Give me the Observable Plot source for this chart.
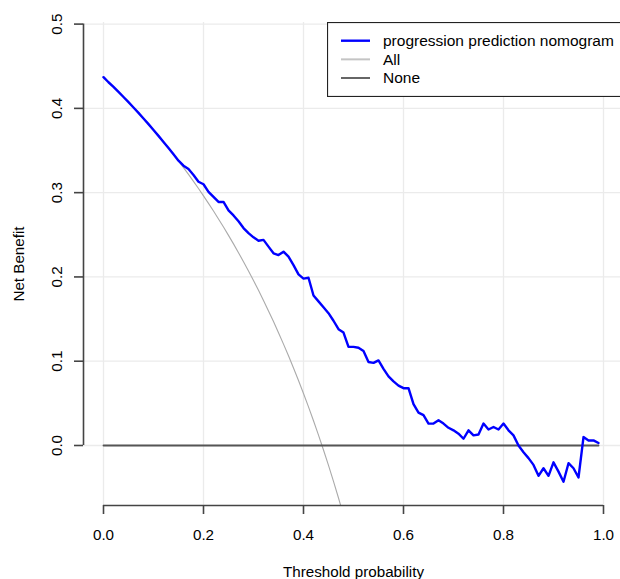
<!DOCTYPE html>
<html><head><meta charset="utf-8">
<script src="https://cdn.jsdelivr.net/npm/d3@7"></script>
<script src="https://cdn.jsdelivr.net/npm/@observablehq/plot@0.6"></script>
<style>
html,body{margin:0;padding:0;background:#fff;overflow:hidden}
#wrap{position:relative;width:620px;height:579px;font-family:"Liberation Sans",Arial,sans-serif}
#legend{position:absolute;left:327px;top:22px}
</style></head><body><div id="wrap"></div>
<script>
// Threshold probabilities (x) for the model curve
const thresholds = [0.00,0.01,0.02,0.03,0.04,0.05,0.06,0.07,0.08,0.09,0.10,0.11,0.12,0.13,0.14,0.15,0.16,0.17,0.18,0.19,
0.20,0.21,0.22,0.23,0.24,0.25,0.26,0.27,0.28,0.29,0.30,0.31,0.32,0.33,0.34,0.35,0.36,0.37,0.38,0.39,
0.40,0.41,0.42,0.43,0.44,0.45,0.46,0.47,0.48,0.49,0.50,0.51,0.52,0.53,0.54,0.55,0.56,0.57,0.58,0.59,
0.60,0.61,0.62,0.63,0.64,0.65,0.66,0.67,0.68,0.69,0.70,0.71,0.72,0.73,0.74,0.75,0.76,0.77,0.78,0.79,
0.80,0.81,0.82,0.83,0.84,0.85,0.86,0.87,0.88,0.89,0.90,0.91,0.92,0.93,0.94,0.95,0.96,0.97,0.98,0.99];
// Net benefit of the progression prediction nomogram
const modelNB = [0.437,0.431,0.4255,0.4196,0.4135,0.4074,0.4011,0.3946,0.388,0.3813,0.3744,0.3674,0.3602,0.3529,0.3455,0.3380,0.332,0.328,0.321,0.313,
0.310,0.301,0.295,0.289,0.289,0.279,0.273,0.266,0.258,0.252,0.247,0.243,0.244,0.236,0.228,0.226,0.230,0.224,0.214,0.203,
0.198,0.199,0.178,0.171,0.164,0.157,0.148,0.138,0.134,0.117,0.117,0.116,0.112,0.099,0.098,0.101,0.091,0.082,0.076,0.071,
0.068,0.068,0.049,0.039,0.036,0.026,0.026,0.030,0.026,0.021,0.018,0.014,0.008,0.018,0.012,0.013,0.026,0.019,0.022,0.019,
0.026,0.018,0.012,0.000,-0.008,-0.015,-0.023,-0.036,-0.027,-0.036,-0.020,-0.031,-0.043,-0.021,-0.027,-0.038,0.010,0.006,0.006,0.003];
// "All" (treat all) curve
const allThresholds = [0.00,0.01,0.02,0.03,0.04,0.05,0.06,0.07,0.08,0.09,0.10,0.11,0.12,0.13,0.14,0.15,0.16,0.17,0.18,0.19,
0.20,0.21,0.22,0.23,0.24,0.25,0.26,0.27,0.28,0.29,0.30,0.31,0.32,0.33,0.34,0.35,0.36,0.37,0.38,0.39,
0.40,0.41,0.42,0.43,0.44,0.45,0.46,0.47,0.48];
const allNB = [0.437,0.431,0.4255,0.4196,0.4135,0.4074,0.4011,0.3946,0.388,0.3813,0.3744,0.3674,0.3602,0.3529,0.3453,0.3376,0.3298,0.3217,0.3134,0.3049,
0.2962,0.2873,0.2782,0.2688,0.2592,0.2493,0.2392,0.2288,0.218,0.207,0.1957,0.1841,0.1721,0.1597,0.147,0.1338,0.1203,0.1064,0.0919,0.0771,
0.0617,0.0458,0.0293,0.0123,-0.0054,-0.0236,-0.0426,-0.0623,-0.0827];
// "None" (treat none) line
const noneThresholds = [0.00, 0.99];
const noneNB = [0, 0];

const xTicks = [0, 0.2, 0.4, 0.6, 0.8, 1.0];
const yTicks = [0, 0.1, 0.2, 0.3, 0.4, 0.5];
const seriesNames = ["progression prediction nomogram", "All", "None"];
const seriesColors = ["#0000ff", "#c4c4c4", "#333333"];
const xTitle = "Threshold probability";
const yTitle = "Net Benefit";

const xDomain = [-0.04, 1.04];
const yDomain = [-0.0712, 0.5019];
const fmt = d3.format(".1f");
const FS = 15.2;
const axisColor = "#444";

const model = thresholds.map((t, i) => ({t, nb: modelNB[i]}));
const all = allThresholds.map((t, i) => ({t, nb: allNB[i]}));
const none = noneThresholds.map((t, i) => ({t, nb: noneNB[i]}));

const chart = Plot.plot({
  width: 620, height: 579,
  marginLeft: 83, marginRight: 0, marginTop: 22, marginBottom: 74,
  style: {fontFamily: '"Liberation Sans", Arial, sans-serif', fontSize: FS + "px", background: "#fff", color: "#000"},
  x: {domain: xDomain, range: [83, 623]},
  y: {domain: yDomain},
  marks: [
    Plot.ruleX(xTicks, {x: d => d, stroke: "#ebebeb", strokeWidth: 1.3}),
    Plot.ruleY(yTicks, {y: d => d, stroke: "#ebebeb", strokeWidth: 1.3}),
    Plot.line(all, {x: "t", y: "nb", stroke: "#aaaaaa", strokeWidth: 1.1, clip: true}),
    Plot.line(none, {x: "t", y: "nb", stroke: "#555", strokeWidth: 1.8}),
    Plot.line(model, {x: "t", y: "nb", stroke: seriesColors[0], strokeWidth: 2.4, strokeLinejoin: "round"}),
    // axis lines
    Plot.ruleY([yDomain[0]], {x1: xTicks[0], x2: xTicks[xTicks.length - 1], stroke: axisColor, strokeWidth: 1.6}),
    Plot.ruleX([xDomain[0]], {y1: yTicks[0], y2: yTicks[yTicks.length - 1], stroke: axisColor, strokeWidth: 1.6}),
    Plot.axisX({ticks: xTicks, tickSize: 9, tickFormat: () => "", stroke: axisColor, strokeWidth: 1.6, label: null}),
    Plot.axisY({ticks: yTicks, tickSize: 9, tickFormat: () => "", stroke: axisColor, strokeWidth: 1.6, label: null}),
    Plot.text(xTicks, {x: d => d, frameAnchor: "bottom", dy: 30, text: d => fmt(d), fontSize: FS, fill: "#000", lineAnchor: "middle"}),
    Plot.text(yTicks, {x: () => xDomain[0], y: d => d, text: d => fmt(d), rotate: -90, dx: -26, fontSize: FS, fill: "#000", lineAnchor: "middle", textAnchor: "middle"}),
    Plot.text([xTitle], {x: () => 0.5, frameAnchor: "bottom", dy: 66.8, text: d => d, fontSize: FS, fill: "#000", lineAnchor: "middle"}),
    Plot.text([yTitle], {frameAnchor: "left", rotate: -90, dx: -64.6, text: d => d, fontSize: FS, fill: "#000", lineAnchor: "middle", textAnchor: "middle"})
  ]
});
const wrap = document.getElementById("wrap");
wrap.appendChild(chart);

// Legend (top-right, inside the plot region)
const lw = 296, lh = 75;
const leg = d3.select(wrap).append("svg").attr("id", "legend").attr("width", lw).attr("height", lh)
  .style("overflow", "hidden");
leg.append("rect").attr("x", 0.5).attr("y", 0.5).attr("width", lw - 1).attr("height", lh - 1)
  .attr("fill", "#fff").attr("stroke", "#222").attr("stroke-width", 1.2);
const legWidths = [2.4, 2, 1.5];
seriesNames.forEach((name, i) => {
  const y = 18.7 + i * 18.65;
  leg.append("line").attr("x1", 14).attr("x2", 43).attr("y1", y).attr("y2", y)
    .attr("stroke", seriesColors[i]).attr("stroke-width", legWidths[i]);
  leg.append("text").attr("x", 56).attr("y", y + 5.4).text(name)
    .attr("font-family", '"Liberation Sans", Arial, sans-serif').attr("font-size", FS + 0.3).attr("fill", "#000");
});
</script>
</body></html>
